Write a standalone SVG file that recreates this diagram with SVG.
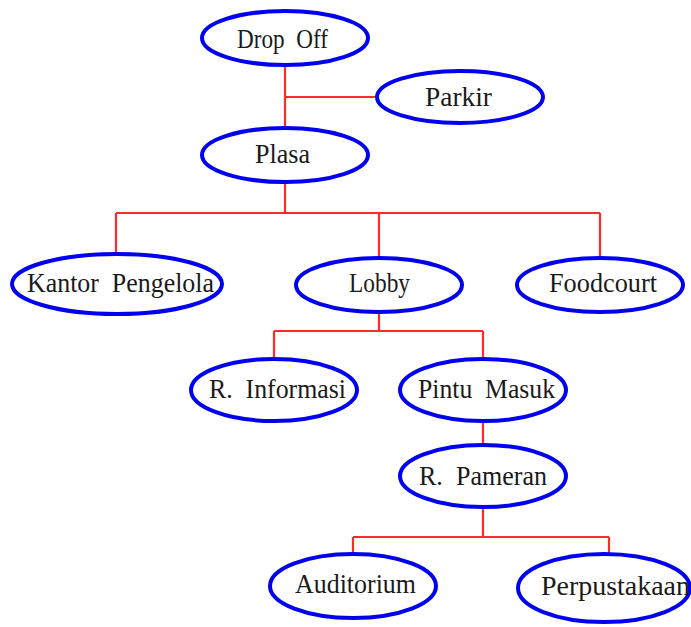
<svg xmlns="http://www.w3.org/2000/svg" width="691" height="627" viewBox="0 0 691 627">
<style>
.n ellipse{fill:#fff;stroke:#0000ee;stroke-width:4}
.n text{font-family:"Liberation Serif",serif;font-size:28px;fill:#1a1a1a;text-anchor:start;white-space:pre}
#edges path{fill:none;stroke:#ff2a2a;stroke-width:2.2}
</style>
<rect width="691" height="627" fill="#fff"/>
<g id="edges">
<path d="M285 65V129M285 97H377"/>
<path d="M285 183V213M116 213H600M116 213V253M379 213V258M600 213V258"/>
<path d="M379 311V331M274 331H483M274 331V358M483 331V358"/>
<path d="M483 421V445"/>
<path d="M483 508V537M353 537H609M353 537V554M609 537V554"/>
</g>
<g id="dropoff" class="n"><ellipse cx="285" cy="38" rx="83" ry="27"/><text x="237" y="48" textLength="91" lengthAdjust="spacingAndGlyphs" xml:space="preserve">Drop  Off</text></g>
<g id="parkir" class="n"><ellipse cx="460" cy="97" rx="83" ry="26"/><text x="425" y="106" textLength="67" lengthAdjust="spacingAndGlyphs">Parkir</text></g>
<g id="plasa" class="n"><ellipse cx="285" cy="155" rx="83" ry="27"/><text x="255" y="163" textLength="55" lengthAdjust="spacingAndGlyphs">Plasa</text></g>
<g id="kantor" class="n"><ellipse cx="117" cy="284" rx="105" ry="30"/><text x="27" y="292" textLength="187" lengthAdjust="spacingAndGlyphs" xml:space="preserve">Kantor  Pengelola</text></g>
<g id="lobby" class="n"><ellipse cx="379" cy="285" rx="83" ry="27"/><text x="349" y="292" textLength="61" lengthAdjust="spacingAndGlyphs">Lobby</text></g>
<g id="foodcourt" class="n"><ellipse cx="600" cy="285" rx="83" ry="27"/><text x="549" y="292" textLength="108" lengthAdjust="spacingAndGlyphs">Foodcourt</text></g>
<g id="informasi" class="n"><ellipse cx="274" cy="390" rx="83" ry="31"/><text x="209" y="398" textLength="137" lengthAdjust="spacingAndGlyphs" xml:space="preserve">R.  Informasi</text></g>
<g id="pintu" class="n"><ellipse cx="483" cy="390" rx="83" ry="31"/><text x="418" y="398" textLength="137" lengthAdjust="spacingAndGlyphs" xml:space="preserve">Pintu  Masuk</text></g>
<g id="pameran" class="n"><ellipse cx="483" cy="476" rx="83" ry="31"/><text x="419" y="485" textLength="128" lengthAdjust="spacingAndGlyphs" xml:space="preserve">R.  Pameran</text></g>
<g id="auditorium" class="n"><ellipse cx="353" cy="586" rx="83" ry="32"/><text x="295" y="593" textLength="121" lengthAdjust="spacingAndGlyphs">Auditorium</text></g>
<g id="perpustakaan" class="n"><ellipse cx="604" cy="588" rx="86" ry="34"/><text x="541" y="595" textLength="149" lengthAdjust="spacingAndGlyphs">Perpustakaan</text></g>
</svg>
